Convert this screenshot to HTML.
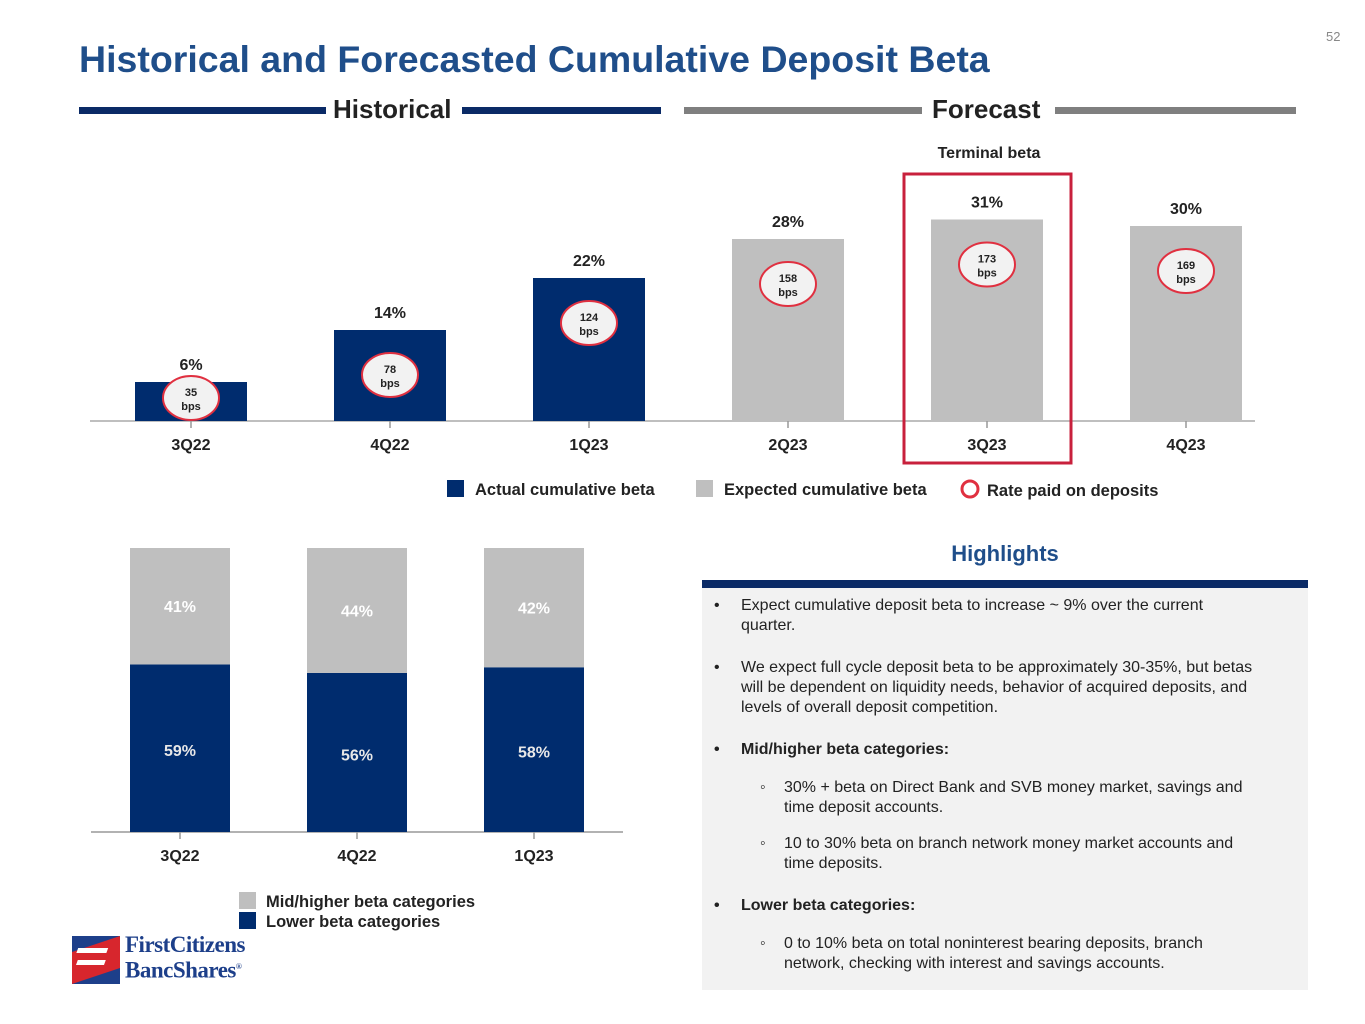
<!DOCTYPE html>
<html><head><meta charset="utf-8">
<style>
body{margin:0;width:1365px;height:1024px;background:#fff;font-family:"Liberation Sans",Arial,sans-serif;position:relative;overflow:hidden}
.abs{position:absolute}
</style></head><body>
<div class="abs" style="left:1326px;top:29px;font-size:13px;color:#888">52</div>
<div class="abs" style="left:79px;top:38px;font-size:37.5px;font-weight:bold;color:#1f4e8a">Historical and Forecasted Cumulative Deposit Beta</div>

<div class="abs" style="left:79px;top:107px;width:247px;height:7px;background:#0a2a66"></div>
<div class="abs" style="left:333px;top:94px;font-size:26px;font-weight:bold;color:#222">Historical</div>
<div class="abs" style="left:462px;top:107px;width:199px;height:7px;background:#0a2a66"></div>
<div class="abs" style="left:684px;top:107px;width:238px;height:7px;background:#7f7f7f"></div>
<div class="abs" style="left:932px;top:94px;font-size:26px;font-weight:bold;color:#222">Forecast</div>
<div class="abs" style="left:1055px;top:107px;width:241px;height:7px;background:#7f7f7f"></div>

<svg class="abs" style="left:0;top:0" width="1365" height="1024" id="svg"></svg>

<div class="abs" style="left:702px;top:541px;width:606px;text-align:center;font-size:22px;font-weight:bold;color:#1f4e8a">Highlights</div>
<div class="abs" style="left:702px;top:580px;width:606px;height:8px;background:#0a2a66"></div>
<div class="abs" style="left:702px;top:588px;width:606px;height:402px;background:#f2f2f2;font-size:16px;color:#222;line-height:20px">
 <div class="abs" style="left:12px;top:8px">•</div><div class="abs" style="left:39px;top:8px;width:510px">Expect cumulative deposit beta to increase ~ 9% over the current quarter.</div>
 <div class="abs" style="left:12px;top:70px">•</div><div class="abs" style="left:39px;top:70px;width:548px">We expect full cycle deposit beta to be approximately 30-35%, but betas <br>will be dependent on liquidity needs, behavior of acquired deposits, and levels of overall deposit competition.</div>
 <div class="abs" style="left:12px;top:152px;font-weight:bold">•</div><div class="abs" style="left:39px;top:152px;font-weight:bold">Mid/higher beta categories:</div>
 <div class="abs" style="left:58px;top:190px">◦</div><div class="abs" style="left:82px;top:190px;width:495px">30% + beta on Direct Bank and SVB money market, savings and<br>time deposit accounts.</div>
 <div class="abs" style="left:58px;top:246px">◦</div><div class="abs" style="left:82px;top:246px;width:485px">10 to 30% beta on branch network money market accounts and<br>time deposits.</div>
 <div class="abs" style="left:12px;top:308px;font-weight:bold">•</div><div class="abs" style="left:39px;top:308px;font-weight:bold">Lower beta categories:</div>
 <div class="abs" style="left:58px;top:346px">◦</div><div class="abs" style="left:82px;top:346px;width:470px">0 to 10% beta on total noninterest bearing deposits, branch network, checking with interest and savings accounts.</div>
</div>

<div class="abs" style="left:70px;top:932px;width:190px;height:56px">
 <svg width="52" height="54" style="position:absolute;left:0;top:0"><rect x="2" y="4" width="48" height="48" fill="#1d3f8a"/><polygon points="2,52 2,20 50,4 50,36" fill="#d7262d"/><rect x="14" y="16" width="30" height="5" fill="#fff" transform="skewX(-20)"/><rect x="18" y="28" width="28" height="5" fill="#fff" transform="skewX(-20)"/></svg>
 <div style="position:absolute;left:55px;top:2px;font-family:'Liberation Serif',serif;font-size:23px;line-height:22px;color:#1d3f8a;letter-spacing:-0.5px;font-weight:bold">FirstCitizens<br>BancShares<sup style="font-size:8px">®</sup></div>
</div>

<script>
const NS="http://www.w3.org/2000/svg";
const svg=document.getElementById('svg');
function mk(tag,attrs,parent){const e=document.createElementNS(NS,tag);for(const k in attrs)e.setAttribute(k,attrs[k]);(parent||svg).appendChild(e);return e;}
function txt(x,y,s,size,fill,anchor,parent){const t=mk('text',{x:x,y:y,'font-size':size,'font-weight':'bold',fill:fill||'#222','text-anchor':anchor||'middle','font-family':'Liberation Sans, Arial, sans-serif'},parent);t.textContent=s;return t;}

// Top chart data
const quarters=["3Q22","4Q22","1Q23","2Q23","3Q23","4Q23"];
const betaValues=[6,14,22,28,31,30];
const isActual=[true,true,true,false,false,false];
const bpsValues=[35,78,124,158,173,169];
const NAVY="#002c6e",GRAY="#bfbfbf";
const topBase=421, pxPerPct=6.5, x0=191, step=199, bw=112;
const yTop=v=>topBase-v*pxPerPct;
const xTop=i=>x0+i*step;
let ax=mk('line',{x1:90,x2:1255,y1:topBase,y2:topBase,stroke:'#bfbfbf','stroke-width':2});

quarters.forEach((q,i)=>{
  const cx=xTop(i),v=betaValues[i];
  const r=mk('rect',{x:cx-bw/2,y:yTop(v),width:bw,height:topBase-yTop(v),fill:isActual[i]?NAVY:GRAY});
  
  
  mk('line',{x1:cx,x2:cx,y1:topBase,y2:topBase+7,stroke:'#999','stroke-width':1.5});
  const l=txt(cx,yTop(v)-12,v+'%',16);
  
  
  const t=txt(cx,450,q,16);
  
  
  const cy=Math.min(yTop(v)+45,398);
  const g=mk('g',{});
  
  
  mk('ellipse',{cx:cx,cy:cy,rx:28,ry:22,fill:'#f2f2f2',stroke:'#e03040','stroke-width':2},g);
  txt(cx,cy-2,bpsValues[i],11,'#222','middle',g);
  txt(cx,cy+12,'bps',11,'#222','middle',g);
});
const tb=txt(989,158,'Terminal beta',16);

const hb=mk('rect',{x:904,y:174,width:167,height:289,fill:'none',stroke:'#c8203c','stroke-width':3});

// legend
let lg=mk('rect',{x:447,y:480,width:17,height:17,fill:NAVY});
txt(475,495,'Actual cumulative beta',16.5,'#222','start');
lg=mk('rect',{x:696,y:480,width:17,height:17,fill:GRAY});
txt(724,495,'Expected cumulative beta',16.5,'#222','start');
lg=mk('circle',{cx:970,cy:489,r:8,fill:'none',stroke:'#e03040','stroke-width':3});
txt(987,496,'Rate paid on deposits',16.5,'#222','start');

// Bottom chart data
const botQuarters=["3Q22","4Q22","1Q23"];
const lowerBeta=[59,56,58];
const higherBeta=[41,44,42];
const bBase=832,bH=284,bx0=180,bstep=177,bbw=100;
const yB=v=>bBase-v/100*bH;
const xB=i=>bx0+i*bstep;
ax=mk('line',{x1:91,x2:623,y1:bBase,y2:bBase,stroke:'#999','stroke-width':1.5});

botQuarters.forEach((q,i)=>{
  const cx=xB(i),lo=lowerBeta[i],hi=higherBeta[i];
  let r=mk('rect',{x:cx-bbw/2,y:yB(lo),width:bbw,height:bBase-yB(lo),fill:NAVY});
  
  
  r=mk('rect',{x:cx-bbw/2,y:yB(lo+hi),width:bbw,height:yB(lo)-yB(lo+hi),fill:GRAY});
  
  
  txt(cx,(yB(lo)+bBase)/2+8,lo+'%',16,'#e8e8e8');
  txt(cx,(yB(lo+hi)+yB(lo))/2+6,hi+'%',16,'#fff');
  mk('line',{x1:cx,x2:cx,y1:bBase,y2:bBase+7,stroke:'#999','stroke-width':1.5});
  const t=txt(cx,861,q,16);
  
  
});
lg=mk('rect',{x:239,y:892,width:17,height:17,fill:GRAY});
txt(266,907,'Mid/higher beta categories',16.5,'#222','start');
lg=mk('rect',{x:239,y:912,width:17,height:17,fill:NAVY});
txt(266,927,'Lower beta categories',16.5,'#222','start');
</script>
</body></html>
